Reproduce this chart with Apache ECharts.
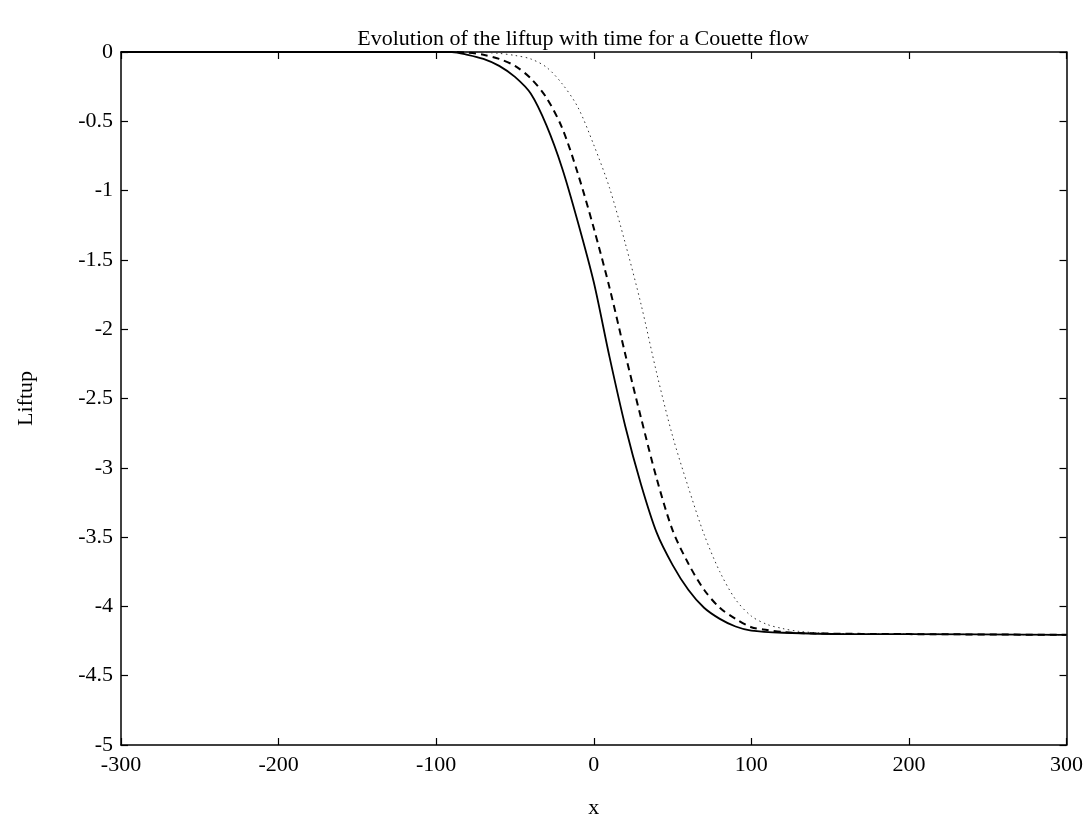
<!DOCTYPE html>
<html>
<head>
<meta charset="utf-8">
<script src="https://cdn.jsdelivr.net/npm/echarts@6/dist/echarts.min.js"></script>
<style>html,body{margin:0;padding:0;background:#fff;}#c{width:1086px;height:837px;}</style>
</head>
<body>
<div id="c"></div>
<script>
var xSolid  = [-300,-200,-120,-90,-80,-70,-60,-50,-40,-30,-20,-10,0,10,20,30,40,50,60,70,80,90,100,120,160,200,300];
var ySolid  = [0,0,0,0,-0.02,-0.05,-0.10,-0.18,-0.30,-0.53,-0.84,-1.23,-1.66,-2.20,-2.70,-3.12,-3.47,-3.70,-3.88,-4.01,-4.09,-4.145,-4.175,-4.19,-4.2,-4.2,-4.205];
var xDashed = [-300,-200,-120,-90,-80,-70,-60,-50,-40,-30,-20,-10,0,10,20,30,40,50,60,70,80,90,100,110,120,140,200,300];
var yDashed = [0,0,0,0,-0.005,-0.02,-0.05,-0.10,-0.19,-0.33,-0.55,-0.88,-1.27,-1.70,-2.18,-2.64,-3.08,-3.45,-3.69,-3.88,-4.01,-4.09,-4.15,-4.17,-4.185,-4.195,-4.2,-4.205];
var xDotted = [-300,-200,-120,-80,-70,-60,-50,-40,-30,-20,-10,0,10,20,30,40,50,60,70,80,90,100,110,120,130,150,200,300];
var yDotted = [0,0,0,0,-0.003,-0.01,-0.025,-0.05,-0.11,-0.23,-0.40,-0.67,-0.98,-1.38,-1.82,-2.32,-2.77,-3.14,-3.48,-3.75,-3.95,-4.07,-4.13,-4.16,-4.18,-4.195,-4.2,-4.205];
var titleText = 'Evolution of the liftup with time for a Couette flow';
var xName = 'x';
var yName = 'Liftup';

function pairs(xs, ys){ return xs.map(function(v,i){ return [v, ys[i]]; }); }

var serif = 'Liberation Serif';
var chart = echarts.init(document.getElementById('c'), null, {renderer:'canvas'});
var tickStyle = {show:true, inside:true, length:7, lineStyle:{color:'#000', width:1.2}};
var lineSt = {show:true, onZero:false, lineStyle:{color:'#000', width:1.5}};
chart.setOption({
  animation:false,
  backgroundColor:'#fff',
  title:{ text:titleText, left:578, top:23, textAlign:'center',
    textStyle:{fontFamily:serif, fontSize:22, fontWeight:'normal', color:'#000'} },
  grid:{ left:121, right:19, top:52, bottom:92, show:false, containLabel:false },
  xAxis:[{
    type:'value', min:-300, max:300, interval:100, position:'bottom',
    name:xName, nameLocation:'middle', nameGap:52,
    nameTextStyle:{fontFamily:serif, fontSize:22, color:'#000'},
    axisLine:lineSt, axisTick:tickStyle, splitLine:{show:false},
    axisLabel:{fontFamily:serif, fontSize:22, color:'#000', margin:9}
  },{
    type:'value', min:-300, max:300, interval:100, position:'top',
    axisLine:lineSt, axisTick:tickStyle, axisLabel:{show:false}, splitLine:{show:false}
  }],
  yAxis:[{
    type:'value', min:-5, max:0, interval:0.5, position:'left',
    name:yName, nameLocation:'middle', nameGap:84, nameRotate:90,
    nameTextStyle:{fontFamily:serif, fontSize:22, color:'#000'},
    axisLine:lineSt, axisTick:tickStyle, splitLine:{show:false},
    axisLabel:{fontFamily:serif, fontSize:22, color:'#000', margin:8}
  },{
    type:'value', min:-5, max:0, interval:0.5, position:'right',
    axisLine:lineSt, axisTick:tickStyle, axisLabel:{show:false}, splitLine:{show:false}
  }],
  series:[
    { type:'line', data:pairs(xSolid,ySolid), showSymbol:false, smooth:0.3,
      lineStyle:{color:'#000', width:1.8, type:'solid'}, z:5 },
    { type:'line', data:pairs(xDashed,yDashed), showSymbol:false, smooth:0.3,
      lineStyle:{color:'#000', width:2, type:[7,5]}, z:4 },
    { type:'line', data:pairs(xDotted,yDotted), showSymbol:false, smooth:0.3,
      lineStyle:{color:'#333', width:1, type:[1.5,3.5]}, z:3 }
  ]
});
</script>
</body>
</html>
